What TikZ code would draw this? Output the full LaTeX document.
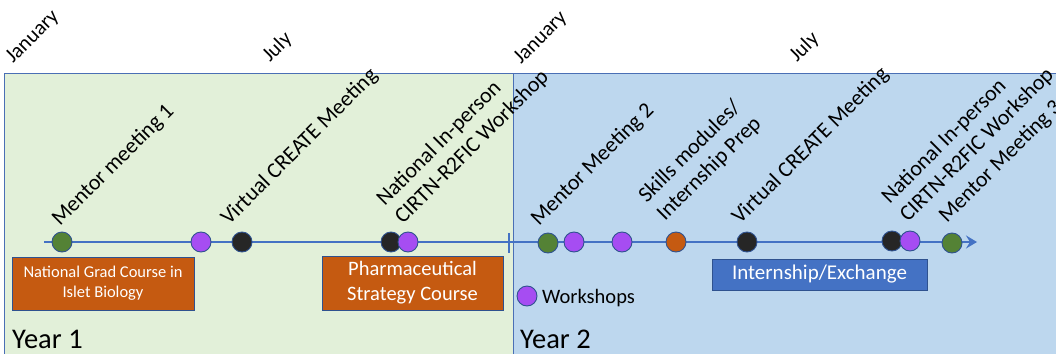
\documentclass[tikz,border=0pt]{standalone}
\usepackage{fontspec}
\setmainfont{Carlito}
\usetikzlibrary{arrows.meta}
\definecolor{greenbg}{HTML}{E2F0D9}
\definecolor{bluebg}{HTML}{BDD7EE}
\definecolor{regionborder}{HTML}{4A6FB5}
\definecolor{tline}{HTML}{4472C4}
\definecolor{dotborder}{HTML}{2F528F}
\definecolor{dgreen}{HTML}{548235}
\definecolor{dpurple}{HTML}{A64DF2}
\definecolor{dblack}{HTML}{262626}
\definecolor{dorange}{HTML}{C55A11}
\begin{document}
\begin{tikzpicture}[x=1pt,y=-1pt,
  dot/.style={circle,minimum size=20pt,inner sep=0pt,draw=dotborder,line width=0.9pt},
  evlabel/.style={rotate=45,anchor=base west,inner sep=0pt,font=\fontsize{22}{26}\selectfont,align=left},
  monthlabel/.style={rotate=45,anchor=base west,inner sep=0pt,font=\fontsize{21}{25}\selectfont},
  yearlabel/.style={anchor=base west,inner sep=0pt,font=\fontsize{28.5}{34}\selectfont},
  coursebox/.style={draw=dotborder,line width=0.9pt,fill=dorange,text=white,align=center,inner sep=0pt},
  tl/.style={draw=tline,line width=2.6pt}
]
\useasboundingbox (0,0) rectangle (1056,353);
\clip (0,0) rectangle (1056,353);
% regions
\draw[fill=greenbg,draw=regionborder,line width=1pt] (4,73) rectangle (513,362);
\draw[fill=bluebg,draw=regionborder,line width=1pt] (513,73) rectangle (1064,362);
% months
\node[monthlabel] (jan1) at (13,64) {January};
\node[monthlabel] (jul1) at (270,63) {July};
\node[monthlabel] (jan2) at (521,65) {January};
\node[monthlabel] (jul2) at (797,63) {July};
% years
\node[yearlabel] (y1) at (12,348) {Year 1};
\node[yearlabel] (y2) at (520,348) {Year 2};
% timeline
\coordinate (tlstart) at (44,242);
\coordinate (tlend) at (977,242);
\draw[tl,-{Stealth[length=11pt,width=13pt,inset=4pt]}] (tlstart) -- (tlend);
\coordinate (ticktop) at (509,233);
\coordinate (tickbot) at (509,253);
\draw[draw=tline,line width=2pt] (ticktop) -- (tickbot);
% course boxes
\node[coursebox,minimum width=182pt,minimum height=53pt,font=\fontsize{16.5}{20}\selectfont] (grad) at (103,283.5) {National Grad Course in\\Islet Biology};
\node[coursebox,minimum width=181pt,minimum height=54pt,font=\fontsize{20.5}{25}\selectfont] (pharm) at (412.5,283) {Pharmaceutical\\Strategy Course};
\node[coursebox,fill=tline,minimum width=215pt,minimum height=31pt,font=\fontsize{21}{25}\selectfont] (intern) at (819.5,274.5) {Internship/Exchange};
% dots
\node[dot,fill=dgreen] (d1) at (62,242) {};
\node[dot,fill=dpurple] (d2) at (201,242) {};
\node[dot,fill=dblack] (d3) at (242,242) {};
\node[dot,fill=dblack] (d4) at (391,242) {};
\node[dot,fill=dpurple] (d5) at (408,242) {};
\node[dot,fill=dgreen] (d6) at (548,243) {};
\node[dot,fill=dpurple] (d7) at (574,242) {};
\node[dot,fill=dpurple] (d8) at (622,242) {};
\node[dot,fill=dorange] (d9) at (676,242) {};
\node[dot,fill=dblack] (d10) at (747,242) {};
\node[dot,fill=dblack] (d11) at (892,241) {};
\node[dot,fill=dpurple] (d12) at (910,241) {};
\node[dot,fill=dgreen] (d13) at (952,243) {};
% legend
\node[dot,fill=dpurple] (leg) at (527,296) {};
\node[anchor=base west,inner sep=0pt,font=\fontsize{20.5}{24}\selectfont] (legtext) at (542,303) {Workshops};
% event labels
\node[evlabel] (l1) at (60,227) {Mentor meeting 1};
\node[evlabel] (l2) at (229,226) {Virtual CREATE Meeting};
\node[evlabel] (l3) at (403,225) {National In-person\\CIRTN-R2FIC Workshop};
\node[evlabel] (l4) at (539,227) {Mentor Meeting 2};
\node[evlabel] (l5) at (665,222) {Skills modules/\\Internship Prep};
\node[evlabel] (l6) at (740,225) {Virtual CREATE Meeting};
\node[evlabel] (l7) at (908,223) {National In-person\\CIRTN-R2FIC Workshop};
\node[evlabel] (l8) at (947,224) {Mentor Meeting 3};
\end{tikzpicture}
\end{document}
